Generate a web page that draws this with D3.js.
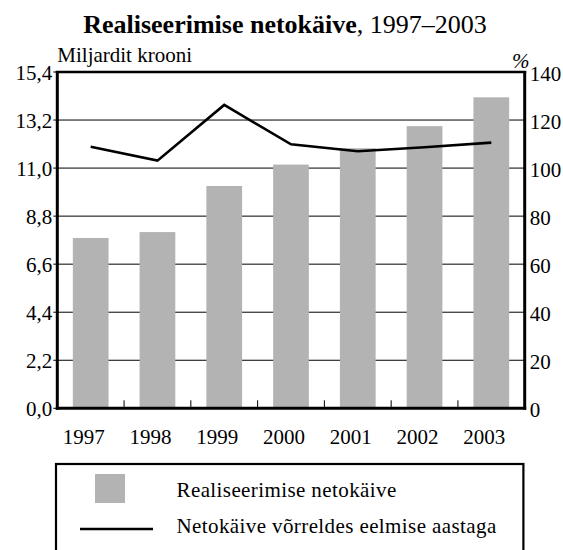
<!DOCTYPE html>
<html><head><meta charset="utf-8">
<script src="https://cdn.jsdelivr.net/npm/d3@7/dist/d3.min.js"></script>
<style>body{margin:0;background:#fff}svg{display:block}svg text{font-family:"Liberation Serif","Times New Roman",serif;fill:#000}</style>
</head><body><svg id="c" width="563" height="550"></svg>
<script>
const years = ["1997","1998","1999","2000","2001","2002","2003"];
const turnover = [7.80, 8.07, 10.18, 11.16, 11.91, 12.92, 14.24];
const growth = [108.9, 103.1, 126.3, 109.9, 107.0, 108.7, 110.6];
const leftTicks = [0, 2.2, 4.4, 6.6, 8.8, 11.0, 13.2, 15.4];
const rightTicks = [0, 20, 40, 60, 80, 100, 120, 140];
const legendLabels = ["Realiseerimise netokäive", "Netokäive võrreldes eelmise aastaga"];

const FONT = "Liberation Serif, Times New Roman, serif";
const svg = d3.select("#c").attr("font-family", FONT);
const L = 57.3, R = 524.7, T = 72, B = 408.3;
const x = d3.scaleBand().domain(years).range([L, R]).paddingInner(0.465).paddingOuter(0.2325);
const yL = d3.scaleLinear().domain([0, 15.4]).range([B, T]);
const yR = d3.scaleLinear().domain([0, 140]).range([B, T]);
const fmt = d => d3.format(".1f")(d).replace(".", ",");

// title
const title = svg.append("text").attr("x", 285).attr("y", 32.5).attr("text-anchor", "middle")
  .attr("font-family", FONT).style("font-size", "26px");
title.append("tspan").attr("font-weight", "bold").text("Realiseerimise netokäive");
title.append("tspan").text(", 1997–2003");

svg.append("text").attr("x", L).attr("y", 62).attr("font-family", FONT).style("font-size", "21px").text("Miljardit krooni");
svg.append("text").attr("x", R - 4).attr("y", 68).attr("text-anchor", "middle").attr("font-family", FONT)
  .style("font-size", "21px").style("font-style", "italic").text("%");

// gridlines
svg.append("g").selectAll("line").data(leftTicks).join("line")
  .attr("x1", L - 4).attr("x2", R)
  .attr("y1", d => yL(d)).attr("y2", d => yL(d))
  .attr("stroke", "#000").attr("stroke-width", 1);

// bars
svg.append("g").selectAll("rect").data(turnover).join("rect")
  .attr("x", (d, i) => x(years[i])).attr("width", x.bandwidth())
  .attr("y", d => yL(d)).attr("height", d => B - yL(d))
  .attr("fill", "#b3b3b3");

// category boundary ticks
const gap = (x.step() - x.bandwidth()) / 2;
svg.append("g").selectAll("line").data(years.slice(1)).join("line")
  .attr("x1", d => x(d) - gap).attr("x2", d => x(d) - gap)
  .attr("y1", B).attr("y2", B - 8).attr("stroke", "#000").attr("stroke-width", 1);

// line
const line = d3.line().x((d, i) => x(years[i]) + x.bandwidth() / 2).y(d => yR(d));
svg.append("path").datum(growth).attr("d", line).attr("fill", "none").attr("stroke", "#000").attr("stroke-width", 2.6).attr("stroke-linejoin", "miter");

// frame
svg.append("line").attr("x1", L - 1.5).attr("x2", R + 1.5).attr("y1", T).attr("y2", T).attr("stroke", "#000").attr("stroke-width", 2.5);
svg.append("line").attr("x1", L - 1.5).attr("x2", R + 1.5).attr("y1", B).attr("y2", B).attr("stroke", "#000").attr("stroke-width", 3);
svg.append("line").attr("x1", L).attr("x2", L).attr("y1", T - 1).attr("y2", B + 1.5).attr("stroke", "#000").attr("stroke-width", 3);
svg.append("line").attr("x1", R).attr("x2", R).attr("y1", T - 1).attr("y2", B + 1.5).attr("stroke", "#000").attr("stroke-width", 3);

// axes labels
svg.append("g").selectAll("text").data(leftTicks).join("text")
  .attr("x", L - 5).attr("y", d => yL(d) + 8).attr("text-anchor", "end").attr("font-family", FONT).style("font-size", "21px").text(fmt);
svg.append("g").selectAll("text").data(rightTicks).join("text")
  .attr("x", R + 5).attr("y", d => yR(d) + 9).attr("font-family", FONT).style("font-size", "21px").text(d => d);
svg.append("g").selectAll("text").data(years).join("text")
  .attr("x", d => x(d) + x.bandwidth() / 2 - 7).attr("y", 443.5).attr("text-anchor", "middle").attr("font-family", FONT).style("font-size", "21px").text(d => d);

// legend
svg.append("rect").attr("x", 56).attr("y", 464).attr("width", 467.4).attr("height", 100)
  .attr("fill", "none").attr("stroke", "#000").attr("stroke-width", 2.2);
svg.append("rect").attr("x", 95).attr("y", 474).attr("width", 30).attr("height", 29).attr("fill", "#b3b3b3");
svg.append("line").attr("x1", 80).attr("x2", 153).attr("y1", 529).attr("y2", 529).attr("stroke", "#000").attr("stroke-width", 2.6);
svg.append("g").selectAll("text").data(legendLabels).join("text")
  .attr("x", 176.5).attr("y", (d, i) => i === 0 ? 496.5 : 533).attr("font-family", FONT)
  .style("font-size", "21px").style("letter-spacing", "0.4px").text(d => d);
</script></body></html>
